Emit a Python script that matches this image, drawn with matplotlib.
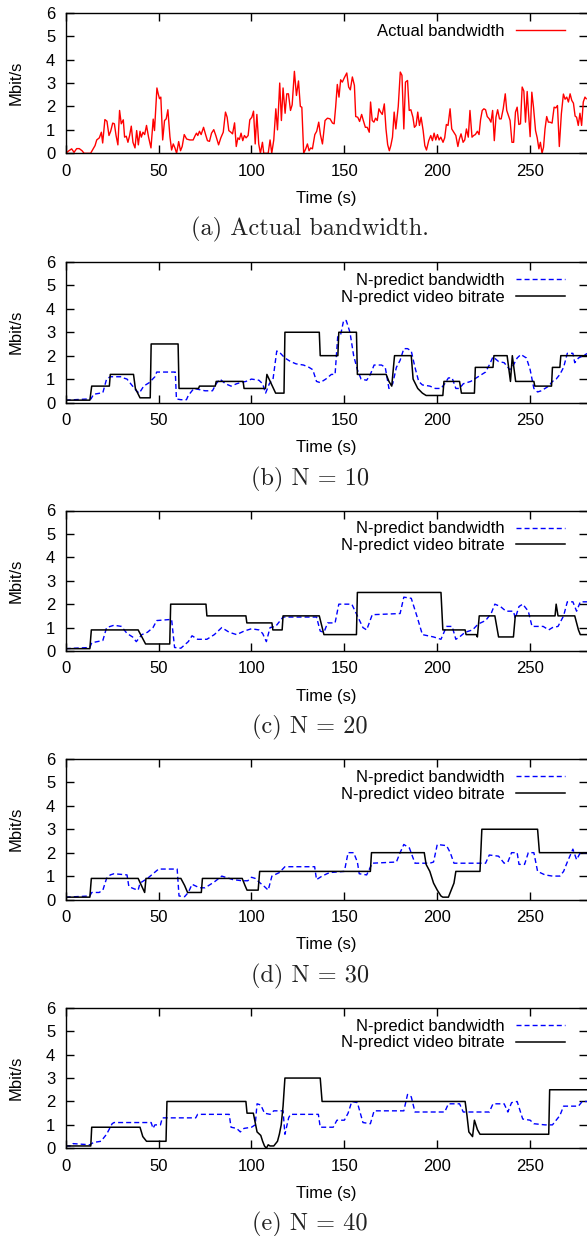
"""
Bandwidth vs. video bitrate for the N-predict scheme, five stacked panels
"""

import matplotlib
matplotlib.use("Agg")
import matplotlib.pyplot as plt

# ---- (a) actual bandwidth ----
t_actual = [0, 1.4, 3.2, 4.5, 5.9, 7.3, 8.8, 9.9, 13.4, 15.8, 16.7, 18.1, 19.2, 19.9, 21.1, 22.2,
            23.3, 24.2, 25.3, 26.2, 27.1, 28.1, 29.0, 29.9, 31.0, 31.7, 32.6, 33.5, 34.4, 35.3,
            36.2, 37.3, 38.2, 39.1, 40.0, 40.7, 41.6, 42.5, 43.5, 44.6, 45.9, 47.1, 47.8, 49.1,
            49.8, 50.5, 51.2, 52.2, 53.2, 54.1, 55.0, 56.1, 57.0, 57.9, 58.8, 59.7, 60.8, 61.8,
            62.7, 63.8, 65.1, 66.8, 68.6, 69.7, 70.4, 71.1, 72.0, 72.9, 74.2, 75.3, 76.3, 77.4,
            78.5, 79.7, 80.8, 82.3, 83.5, 84.8, 86.0, 86.9, 87.8, 88.9, 89.8, 90.9, 91.8, 92.7,
            93.5, 94.4, 95.3, 96.2, 97.1, 98.2, 99.1, 100.2, 101.1, 102.0, 102.9, 103.9, 104.8,
            105.9, 106.6, 109.0, 110.0, 110.9, 112.0, 113.1, 114.0, 115.2, 116.1, 117.0, 118.1,
            119.0, 119.9, 121.0, 121.9, 123.1, 124.2, 125.3, 126.3, 127.1, 128.1, 129.2, 130.1,
            131.0, 131.9, 132.8, 134.1, 135.1, 136.2, 137.1, 138.2, 139.6, 140.9, 142.3, 143.6,
            144.5, 145.3, 146.2, 147.1, 148.0, 148.9, 150.0, 151.3, 152.3, 153.2, 154.3, 155.4,
            156.1, 157.2, 158.2, 159.3, 160.2, 161.3, 162.3, 163.4, 164.1, 165.0, 165.9, 166.8,
            167.7, 168.6, 169.5, 170.4, 171.5, 172.4, 173.3, 174.2, 175.0, 175.9, 176.8, 177.7,
            179.0, 180.1, 181.0, 182.0, 182.9, 184.0, 184.9, 185.8, 186.9, 187.7, 188.6, 189.5,
            190.4, 191.3, 192.4, 193.3, 194.2, 195.4, 196.5, 197.4, 198.3, 199.2, 200.1, 201.0,
            201.9, 203.1, 204.0, 204.9, 205.8, 206.9, 207.8, 208.9, 210.0, 211.1, 211.9, 212.8,
            213.9, 214.8, 215.7, 216.7, 217.6, 218.7, 219.6, 220.5, 221.6, 222.5, 223.3, 224.2,
            225.1, 226.0, 226.9, 228.0, 228.9, 229.8, 230.7, 231.6, 232.5, 233.5, 234.4, 235.5,
            236.6, 237.4, 238.3, 239.2, 240.2, 241.1, 242.1, 243.0, 243.9, 244.8, 245.7, 246.6,
            247.5, 248.4, 249.1, 250.0, 250.9, 251.8, 252.9, 253.8, 254.7, 255.5, 256.4, 257.2,
            258.0, 258.9, 259.8, 260.7, 261.8, 262.9, 263.8, 264.7, 265.7, 266.8, 267.9, 268.8,
            269.7, 270.6, 271.5, 272.4, 273.3, 274.2, 275.0, 275.9, 276.8, 277.7, 278.6, 279.5,
            280.2]
bw_actual = [0, 0.09, 0.19, 0.04, 0.2, 0.2, 0.11, 0, 0, 0.33, 0.57, 0.66, 0.9, 0.44, 1.44, 1.37,
             0.76, 0.94, 1.29, 1.26, 0.76, 0.36, 1.83, 1.26, 1.43, 0.69, 0.73, 0.47, 0.76, 1.16,
             0.47, 0.23, 0.97, 0.36, 0.94, 0.69, 0.9, 0.8, 1.19, 0.69, 0.23, 1.46, 0.97, 2.79,
             2.54, 2.33, 2.4, 0.57, 1.4, 1.47, 1.86, 0.71, 0.14, 0.4, 0.23, 0, 0.5, 0.11,
             0.29, 0.8, 0.61, 0.57, 0.57, 0.76, 0.86, 0.76, 0.94, 0.8, 1.11, 0.8, 0.54, 0.51,
             0.86, 1.01, 0.76, 0.36, 0.66, 0.9, 1.76, 1.54, 0.97, 0.9, 0.83, 1.3, 0.29, 0.66,
             0.59, 0.86, 0.54, 0.76, 0.66, 0.76, 1.43, 1.54, 1.8, 0.4, 1.66, 0.4, 0,
             0.47, 0, 0, 0.57, 0, 0.57, 1.9, 1.0, 3.0, 1.4, 2.79, 1.71,
             2.54, 2.54, 1.83, 2.07, 3.5, 2.47, 3.09, 2.0, 1.97, 0, 0.19, 0.4,
             0.11, 0.23, 0.19, 0.8, 0.94, 1.33, 0.8, 0.4, 1.4, 1.5, 1.47, 1.29,
             1.26, 1.97, 2.94, 2.4, 3.14, 3.04, 3.23, 3.43, 2.83, 2.71, 3.26, 2.9,
             1.57, 1.54, 1.36, 1.66, 1.4, 1.11, 1.11, 0.9, 2.19, 1.4, 1.33, 1.5,
             1.4, 1.9, 1.76, 1.66, 2.11, 1.04, 0.37, 0.11, 0.33, 0.69, 1.76, 1.04,
             2.0, 3.47, 3.33, 1.04, 3.04, 3.11, 1.83, 1.86, 1.54, 1.11, 1.19, 1.76,
             1.19, 1.54, 0.97, 0.33, 0.14, 0.54, 0.76, 0.54, 0.86, 0.57, 0.8, 0.57,
             0.69, 0.47, 0.66, 1.23, 1.19, 1.9, 1.04, 0.9, 0.76, 0.29, 0.61, 0.83,
             0.47, 0.57, 1.04, 0.69, 1.83, 0.69, 0.76, 0.8, 0.94, 0.8, 1.43, 1.83,
             1.9, 1.86, 1.57, 1.47, 1.33, 1.83, 0.54, 1.54, 1.86, 1.47, 1.47, 1.9,
             2.54, 1.83, 1.61, 1.4, 0.47, 0.47, 1.76, 1.97, 1.23, 1.26, 2.83, 2.66,
             1.33, 2.64, 1.76, 0.71, 2.61, 1.97, 0.97, 0.66, 0.19, 0.47, 0, 0.26,
             1.04, 1.57, 1.33, 1.33, 1.29, 1.97, 1.94, 2.04, 0.29, 1.69, 2.53, 2.31,
             2.4, 2.19, 2.54, 2.26, 2.14, 1.59, 1.54, 1.19, 1.71, 1.19, 2.19, 2.4,
             2.33]

# ---- (b) N = 10 ----
t_bw10 = [0, 12, 13.6, 15, 20, 22, 24, 30, 31, 33, 35, 37, 38, 39.6, 42, 45, 48, 49, 59, 59.6,
          62, 65, 66, 69, 72, 75, 79, 81, 83, 86, 89, 92, 94, 97, 100, 104, 106, 107.6, 109.6,
          111.6, 113.6, 115.6, 118, 121, 124, 128, 131, 133, 135, 137, 140, 143, 145, 146.4,
          148, 149.6, 151, 153, 155, 157, 159, 162, 164, 166, 170, 172, 174, 176, 178, 180,
          182, 184, 186, 188, 190, 192, 196, 199, 202, 204, 206, 208, 210, 212, 214, 218, 222,
          226, 228, 230, 233, 236, 239, 241, 243, 245, 248, 250, 252, 254, 256, 258, 260, 262,
          264, 266, 268, 270, 273, 274, 276, 281]
bw10 = [0.1, 0.15, 0.15, 0.35, 0.42, 1.0, 1.1, 1.1, 1.05, 1.0, 0.8, 0.6, 0.5, 0.4, 0.7, 0.85,
        1.1, 1.3, 1.3, 0.15, 0.12, 0.12, 0.3, 0.6, 0.55, 0.5, 0.5, 0.8, 1.0, 0.8, 0.7, 0.8,
        0.85, 0.9, 1.0, 0.95, 0.8, 0.4, 0.8, 1.0, 2.2, 2.1, 1.9, 1.75, 1.65, 1.6, 1.5, 1.4,
        0.9, 0.85, 1.0, 1.2, 1.2, 2.8, 2.9, 3.5, 3.5, 3.0, 2.0, 1.4, 1.0, 0.95, 1.2, 1.6,
        1.6, 1.5, 0.6, 0.8, 1.5, 1.8, 2.3, 2.3, 2.2, 1.5, 0.9, 0.75, 0.7, 0.6, 0.6, 0.8,
        1.05, 1.05, 0.6, 0.6, 0.8, 0.9, 1.1, 1.3, 1.6, 1.95, 1.75, 1.7, 1.4, 1.6, 1.9, 2.05,
        1.9, 1.4, 0.6, 0.45, 0.5, 0.6, 0.7, 0.9, 1.0, 1.2, 1.5, 2.1, 2.1, 1.7, 1.9, 2.1]
t_rate10 = [0, 13, 14, 23.5, 24, 36.5, 37.5, 40, 45.5, 46, 60.5, 61, 71.5, 72, 80.5, 81, 95.5,
            96, 107.5, 108.3, 113, 117.5, 118, 136.5, 137, 146.5, 147, 156.5, 157, 172.5, 174,
            175.5, 177, 186, 187, 189.5, 192, 194, 203, 203.6, 212, 213, 220, 220.5, 230,
            230.5, 237.6, 239.4, 240.4, 242.2, 252, 252.5, 261.5, 262, 266, 266.5, 281]
rate10 = [0.1, 0.1, 0.7, 0.7, 1.2, 1.2, 0.6, 0.2, 0.2, 2.5, 2.5, 0.6, 0.6, 0.7, 0.7, 0.9, 0.9,
          0.6, 0.6, 1.2, 0.4, 0.4, 3.0, 3.0, 2.0, 2.0, 3.0, 3.0, 1.2, 1.2, 0.9,
          0.7, 2.0, 2.0, 1.0, 0.6, 0.4, 0.3, 0.3, 0.9, 0.9, 0.4, 0.4, 1.5, 1.5,
          2.0, 2.0, 0.9, 2.0, 0.9, 0.9, 0.7, 0.7, 1.5, 1.5, 2.0, 2.0]

# ---- (c) N = 20 ----
t_bw20 = [0, 13, 14, 20, 22, 26, 30, 33, 36, 38, 41, 44, 47, 49, 57, 58.6, 62, 66, 68, 71, 76,
          80, 84, 88, 92, 96, 100, 104, 106, 108, 110, 113, 117, 135, 137, 139, 141, 145, 147,
          154, 157, 160, 162, 165, 180, 182, 186, 189, 192, 198, 202, 205, 208, 210, 212, 215,
          219, 222, 226, 229, 231, 234, 237, 241, 242, 244, 246, 249, 251, 257, 260, 262, 265,
          268, 270, 273, 275, 277, 281]
bw20 = [0.1, 0.15, 0.35, 0.45, 1.0, 1.1, 1.05, 0.75, 0.6, 0.4, 0.7, 0.8, 1.0, 1.3, 1.35, 0.15,
        0.12, 0.4, 0.65, 0.5, 0.5, 0.7, 1.0, 0.8, 0.7, 0.85, 0.95, 0.9, 0.75, 0.4, 1.0, 1.05,
        1.45, 1.45, 0.85, 0.8, 1.2, 1.2, 2.0, 2.0, 1.5, 1.0, 0.9, 1.55, 1.6, 2.3, 2.25, 1.5,
        0.7, 0.6, 0.5, 1.05, 1.05, 0.5, 0.6, 0.8, 0.9, 1.15, 1.3, 1.6, 2.0, 1.9, 1.7, 1.7,
        1.4, 1.9, 2.0, 1.7, 1.05, 1.05, 0.9, 1.0, 1.05, 1.5, 2.1, 2.1, 1.7, 2.1, 2.1]
t_rate20 = [0, 13, 13.8, 39, 43, 56, 56.5, 75.5, 76, 97, 97.5, 111, 111.5, 116.5, 117, 136.5,
            139, 156.5, 157, 202, 203, 215, 215.5, 221, 221.6, 222.6, 231, 233, 241, 242,
            263.4, 264, 265, 274, 276, 277, 281]
rate20 = [0.1, 0.1, 0.9, 0.9, 0.3, 0.3, 2.0, 2.0, 1.5, 1.5, 1.2, 1.2, 0.9, 0.9, 1.5, 1.5,
          0.7, 0.7, 2.5, 2.5, 0.9, 0.9, 0.7, 0.7, 0.6, 1.5, 1.5, 0.6, 0.6, 1.5,
          1.5, 2.0, 1.5, 1.5, 0.9, 0.7, 0.7]

# ---- (d) N = 30 ----
t_bw30 = [0, 13, 14, 18, 20, 22, 24, 26, 33, 34, 37, 39, 40, 44, 47, 50, 60, 61, 64, 66, 68, 72,
          75, 80, 84, 90, 95, 98, 100, 102, 104, 107, 109, 111, 115, 118, 134, 135, 138, 142,
          150, 152, 155, 157, 158, 162, 165, 178, 180, 182, 185, 188, 196, 198, 200, 205, 207,
          209, 226, 228, 233, 236, 238, 240, 243, 244, 247, 249, 252, 254, 258, 262, 266, 268,
          270, 273, 275, 277, 281]
bw30 = [0.1, 0.15, 0.3, 0.3, 0.4, 0.9, 1.05, 1.1, 1.05, 0.55, 0.45, 0.4, 0.7, 0.9, 1.1, 1.3,
        1.3, 0.15, 0.12, 0.3, 0.65, 0.5, 0.5, 0.75, 1.0, 0.85, 0.8, 0.8, 0.95, 0.9, 0.75,
        0.55, 0.4, 1.0, 1.15, 1.4, 1.4, 0.85, 1.0, 1.15, 1.2, 2.0, 2.0, 1.6, 1.1, 1.05, 1.55,
        1.6, 2.0, 2.35, 2.2, 1.55, 1.55, 1.6, 2.35, 2.3, 2.0, 1.55, 1.55, 1.9, 1.85, 1.55,
        1.6, 2.0, 2.0, 1.5, 1.5, 2.0, 2.0, 1.2, 1.05, 1.0, 1.0, 1.2, 1.6, 2.15, 1.7, 2.0, 2.0]
t_rate30 = [0, 13, 13.8, 39, 42.5, 43.2, 62, 64, 65.6, 73, 73.6, 95, 96.5, 97.6, 103.6, 104.4,
            164, 164.6, 193, 194, 196, 198, 200, 202, 203, 206, 207.5, 209, 210, 223, 224, 254,
            255, 281]
rate30 = [0.1, 0.1, 0.9, 0.9, 0.3, 0.9, 0.9, 0.6, 0.3, 0.3, 0.9, 0.9, 0.6, 0.4, 0.4, 1.2,
          1.2, 2.0, 2.0, 1.5, 1.2, 0.7, 0.4, 0.15, 0.1, 0.1, 0.4, 0.7, 1.2, 1.2, 3.0, 3.0,
          2.0, 2.0]

# ---- (e) N = 40 ----
t_bw40 = [0, 3, 4, 13, 15, 19, 22, 25, 26, 46, 47, 48, 51, 52, 70, 71, 88, 89, 92, 94, 96, 100,
          102, 103, 105, 107, 110, 112, 117, 118, 120, 121, 136, 137, 144, 146, 150, 152, 154,
          157, 160, 164, 166, 182, 184, 186, 188, 204, 206, 212, 214, 228, 230, 236, 238, 240,
          243, 246, 250, 252, 258, 262, 266, 268, 276, 278, 281]
bw40 = [0.1, 0.1, 0.2, 0.15, 0.25, 0.3, 0.6, 1.05, 1.1, 1.1, 0.85, 1.0, 1.0, 1.3, 1.3, 1.45,
        1.45, 0.9, 0.85, 0.7, 0.85, 0.9, 1.0, 1.9, 1.85, 1.5, 1.45, 1.6, 1.6, 0.6, 1.3, 1.45,
        1.45, 0.9, 0.9, 1.2, 1.2, 1.5, 2.0, 1.95, 1.1, 1.05, 1.6, 1.6, 2.3, 2.2, 1.55, 1.55,
        1.9, 1.9, 1.55, 1.55, 1.9, 1.9, 1.55, 1.95, 2.0, 1.25, 1.2, 1.05, 1.0, 1.0, 1.4, 1.8,
        1.8, 2.0, 2.0]
t_rate40 = [0, 13.5, 14, 40, 41.5, 43.5, 54, 54.5, 97, 97.6, 101, 102, 103, 105, 106, 107, 108,
            109, 110, 112, 114, 115, 116, 117, 118, 137, 138, 215, 216, 217, 219, 220, 221.6,
            223, 260, 260.5, 281]
rate40 = [0.1, 0.1, 0.9, 0.9, 0.5, 0.3, 0.3, 2.0, 2.0, 1.5, 1.5, 1.1, 0.7, 0.55, 0.3, 0.1,
          0.0, 0.15, 0.1, 0.1, 0.3, 0.6, 1.0, 1.8, 3.0, 3.0, 2.0, 2.0, 1.4, 0.7, 0.5, 1.2,
          0.8, 0.6, 0.6, 2.5, 2.5]

captions = ["(a) Actual bandwidth.", "(b) N = 10", "(c) N = 20", "(d) N = 30", "(e) N = 40"]
bw_label = "N-predict bandwidth"
rate_label = "N-predict video bitrate"
x_ticks = [0, 50, 100, 150, 200, 250]
y_ticks = [0, 1, 2, 3, 4, 5, 6]

W, H = 587, 1236
fig = plt.figure(figsize=(W / 100, H / 100), dpi=100)
plt.rcParams['font.family'] = ['Liberation Sans', 'DejaVu Sans']

ax_left = 65.7
ax_w = W - ax_left
ax_h = 140.5
bottoms = [153.3, 402.5, 651.0, 899.5, 1148.3]   # pixel rows of the x axis


def style_axes(ax):
    ax.set_xlim(0, 280.6)
    ax.set_ylim(0, 6)
    ax.set_xticks(x_ticks)
    ax.set_yticks(y_ticks)
    ax.tick_params(direction='in', length=6, width=1.0, top=True, right=True,
                   labelsize=12, pad=7.5)
    for s in ax.spines.values():
        s.set_linewidth(1.0)
    ax.spines['right'].set_visible(False)
    ax.set_xlabel('Time (s)', fontsize=12, labelpad=9)
    ax.set_ylabel('Mbit/s', fontsize=12)
    ax.yaxis.set_label_coords((24 - ax_left) / ax_w, 0.5)


series = [
    None,
    (t_bw10, bw10, t_rate10, rate10),
    (t_bw20, bw20, t_rate20, rate20),
    (t_bw30, bw30, t_rate30, rate30),
    (t_bw40, bw40, t_rate40, rate40),
]

for i, (bot, cap) in enumerate(zip(bottoms, captions)):
    ax = fig.add_axes([ax_left / W, 1 - bot / H, ax_w / W, ax_h / H])
    if series[i] is None:
        ax.plot(t_actual, bw_actual, color='#ff0000', lw=1.0, label='Actual bandwidth')
    else:
        tb, b, tr, r = series[i]
        ax.plot(tb, b, color='#0000ff', lw=1.0, dashes=(3.6, 2.2), label=bw_label)
        ax.plot(tr, r, color='black', lw=1.1, label=rate_label)
    style_axes(ax)
    ax.legend(loc='upper right', bbox_to_anchor=((565 - ax_left) / ax_w, 1 - 11 / ax_h),
              frameon=False, markerfirst=False, fontsize=12, handlelength=2.95,
              handletextpad=0.7, labelspacing=0.1, borderpad=0, borderaxespad=0)
    fig.text(310 / W, 1 - (bot + 76.5) / H, cap, family='cmr10', fontsize=17.5,
             ha='center', va='center', color='#222222')

fig.savefig('out.png', dpi=100)
